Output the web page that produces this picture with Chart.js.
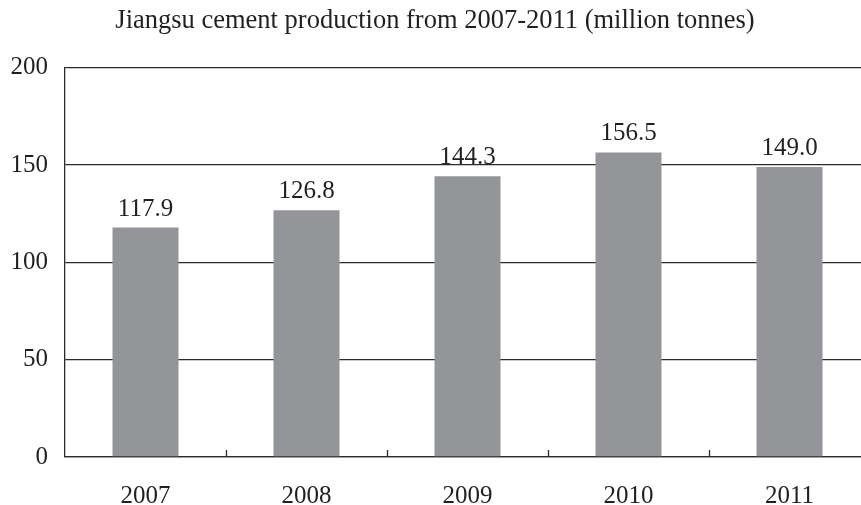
<!DOCTYPE html>
<html>
<head>
<meta charset="utf-8">
<script src="https://cdn.jsdelivr.net/npm/chart.js@4.4.1/dist/chart.umd.min.js"></script>
<style>
    html, body { margin: 0; padding: 0; background: #ffffff; overflow: hidden; }
    #wrap { width: 870px; height: 505px; }
</style>
</head>
<body>
<div id="wrap"><canvas id="cementChart"></canvas></div>
<script>
const years = ['2007', '2008', '2009', '2010', '2011'];
const production = [117.9, 126.8, 144.3, 156.5, 149.0];
const yTicks = [0, 50, 100, 150, 200];

const SERIF = '"Liberation Serif", "Times New Roman", serif';
const LINE = '#2b2b2b';
const TEXT = '#231f20';

// value written above each bar
const barValues = {
    id: 'barValues',
    afterDatasetsDraw(chart) {
        const ctx = chart.ctx;
        const meta = chart.getDatasetMeta(0);
        ctx.save();
        ctx.font = '25px ' + SERIF;
        ctx.fillStyle = TEXT;
        ctx.textAlign = 'center';
        ctx.textBaseline = 'alphabetic';
        meta.data.forEach((bar, i) => {
            ctx.fillText(production[i].toFixed(1), bar.x, bar.y - 12);
        });
        ctx.restore();
    }
};

// short upward marks between the categories on the x axis
const categoryMarks = {
    id: 'categoryMarks',
    afterDraw(chart) {
        const ctx = chart.ctx;
        const x = chart.scales.x;
        const bottom = chart.chartArea.bottom;
        ctx.save();
        ctx.strokeStyle = LINE;
        ctx.lineWidth = 1.3;
        for (let i = 1; i < years.length; i++) {
            const px = Math.round((x.getPixelForTick(i - 1) + x.getPixelForTick(i)) / 2) + 0.5;
            ctx.beginPath();
            ctx.moveTo(px, bottom);
            ctx.lineTo(px, bottom - 7);
            ctx.stroke();
        }
        ctx.restore();
    }
};

const ctx = document.getElementById('cementChart').getContext('2d');
const cementChart = new Chart(ctx, {
    type: 'bar',
    data: {
        labels: years,
        datasets: [{
            label: 'Cement production',
            data: production,
            backgroundColor: '#939598',
            borderWidth: 0,
            barPercentage: 0.41,
            categoryPercentage: 1.0
        }]
    },
    options: {
        responsive: true,
        maintainAspectRatio: false,
        animation: false,
        layout: { padding: { top: 5, left: 0, right: 0, bottom: 0 } },
        plugins: {
            legend: { display: false },
            tooltip: { enabled: false },
            title: {
                display: true,
                text: 'Jiangsu cement production from 2007-2011 (million tonnes)',
                color: TEXT,
                font: { family: SERIF, size: 26.5, weight: 'normal' },
                padding: { top: 0, bottom: 31 }
            }
        },
        scales: {
            x: {
                afterFit: axis => { axis.height = 48; },
                grid: { display: false },
                border: { display: true, color: LINE, width: 1.3 },
                ticks: {
                    color: TEXT,
                    font: { family: SERIF, size: 25 },
                    padding: 16
                }
            },
            y: {
                min: 0,
                max: 200,
                afterBuildTicks: axis => { axis.ticks = yTicks.map(v => ({ value: v })); },
                afterFit: axis => { axis.width = 65; },
                grid: { color: LINE, lineWidth: 1.3, drawTicks: false },
                border: { display: true, color: LINE, width: 1.3 },
                ticks: {
                    color: TEXT,
                    font: { family: SERIF, size: 25 },
                    padding: 17
                }
            }
        }
    },
    plugins: [barValues, categoryMarks]
});
</script>
</body>
</html>
